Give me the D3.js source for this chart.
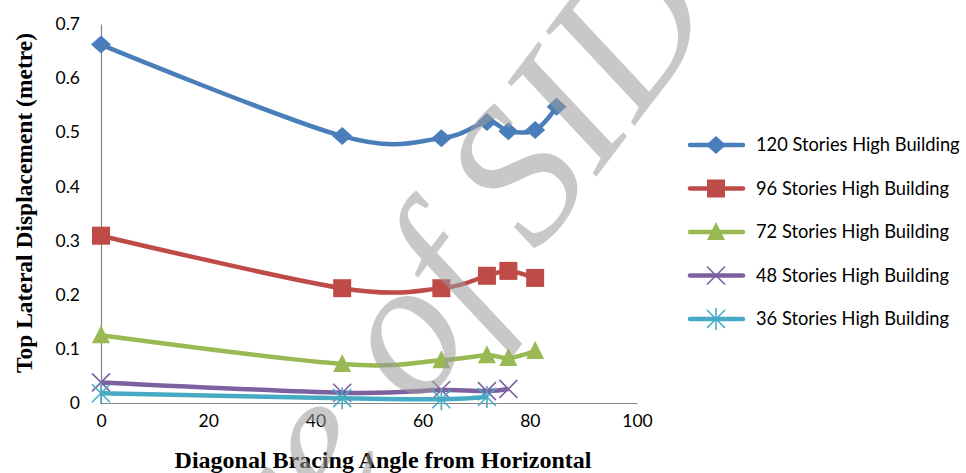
<!DOCTYPE html>
<html>
<head>
<meta charset="utf-8">
<script src="https://cdnjs.cloudflare.com/ajax/libs/d3/7.8.5/d3.min.js"></script>
<style>
  body { margin: 0; background: #fff; }
  svg { display: block; }
</style>
</head>
<body>
<svg id="chart" width="966" height="473"></svg>
<script>
// bracing angle (deg) and top displacement (m) for every building
const angles120 = [0, 45, 63.5, 72, 76, 81, 85];
const disp120 = [0.662, 0.493, 0.489, 0.519, 0.502, 0.504, 0.547];
const angles96 = [0, 45, 63.5, 72, 76, 81];
const disp96 = [0.309, 0.212, 0.212, 0.235, 0.244, 0.231];
const angles72 = [0, 45, 63.5, 72, 76, 81];
const disp72 = [0.125, 0.072, 0.079, 0.088, 0.083, 0.096];
const angles48 = [0, 45, 63.5, 72, 76];
const disp48 = [0.038, 0.019, 0.024, 0.022, 0.026];
const angles36 = [0, 45, 63.5, 72];
const disp36 = [0.018, 0.009, 0.007, 0.011];

const seriesNames = ["120 Stories High Building", "96 Stories High Building", "72 Stories High Building",
    "48 Stories High Building", "36 Stories High Building"];
const seriesColors = ["#4a7ebb", "#be4b48", "#98b954", "#7d60a0", "#46aac5"];
const seriesMarkers = ["diamond", "square", "triangle", "x", "star"];

const xTicks = [0, 20, 40, 60, 80, 100];
const yTicks = [0, 0.1, 0.2, 0.3, 0.4, 0.5, 0.6, 0.7];

const allAngles = [angles120, angles96, angles72, angles48, angles36];
const allDisp = [disp120, disp96, disp72, disp48, disp36];

const svg = d3.select("#chart");

const x = d3.scaleLinear().domain([0, 100]).range([101, 637]);
const y = d3.scaleLinear().domain([0, 0.7]).range([403, 24]);

//坐标轴
const tickFont = "Lato, 'Open Sans', sans-serif";
const serifFont = "'Liberation Serif', 'Times New Roman', serif";

const yAxis = svg.append("g")
    .attr("transform", `translate(${x(0)},0)`)
    .call(d3.axisLeft(y).tickValues(yTicks).tickSize(0).tickPadding(21)
        .tickFormat(d => d === 0 ? "0" : d3.format(".1f")(d)));

const xAxis = svg.append("g")
    .attr("transform", `translate(0,${y(0)})`)
    .call(d3.axisBottom(x).tickValues(xTicks).tickSize(0).tickPadding(12));

[xAxis, yAxis].forEach(function (a) {
    a.select(".domain").attr("stroke", "#868686").attr("stroke-width", 1.2);
    a.selectAll("text")
        .attr("font-family", tickFont)
        .attr("font-size", 17.5)
        .attr("fill", "#000");
});

//标题
svg.append("text")
    .text("Top Lateral Displacement (metre)")
    .attr("transform", "translate(32,203) rotate(-90)")
    .attr("text-anchor", "middle")
    .attr("font-family", serifFont)
    .attr("font-weight", "bold")
    .attr("font-size", 23.5);

svg.append("text")
    .text("Diagonal Bracing Angle from Horizontal")
    .attr("x", 383)
    .attr("y", 468)
    .attr("text-anchor", "middle")
    .attr("font-family", serifFont)
    .attr("font-weight", "bold")
    .attr("font-size", 24);

//标记符号
function drawMarker(g, type, color) {
    if (type === "diamond") {
        g.append("path").attr("d", "M0,-9L10,0L0,9L-10,0Z").attr("fill", color);
    } else if (type === "square") {
        g.append("rect").attr("x", -9).attr("y", -9).attr("width", 18).attr("height", 18).attr("fill", color);
    } else if (type === "triangle") {
        g.append("path").attr("d", "M0,-10L9,8L-9,8Z").attr("fill", color);
    } else if (type === "x") {
        g.append("path").attr("d", "M-9,-9L9,9M-9,9L9,-9")
            .attr("stroke", color).attr("stroke-width", 1.6).attr("fill", "none");
    } else {
        g.append("path").attr("d", "M-9,-9L9,9M-9,9L9,-9M0,-11L0,11")
            .attr("stroke", color).attr("stroke-width", 1.6).attr("fill", "none");
    }
}

const line = d3.line()
    .x(d => x(d[0]))
    .y(d => y(d[1]))
    .curve(d3.curveCardinal.tension(0));

const plot = svg.append("g").attr("class", "plot");

seriesNames.forEach(function (name, i) {
    const pts = allAngles[i].map((a, j) => [a, allDisp[i][j]]);
    const g = plot.append("g").attr("class", "series");
    g.append("path")
        .datum(pts)
        .attr("d", line)
        .attr("fill", "none")
        .attr("stroke", seriesColors[i])
        .attr("stroke-width", 4.5)
        .attr("stroke-linejoin", "round");
    g.selectAll("g.mk")
        .data(pts)
        .join("g")
        .attr("class", "mk")
        .attr("transform", d => `translate(${x(d[0])},${y(d[1])})`)
        .each(function () {
            drawMarker(d3.select(this), seriesMarkers[i], seriesColors[i]);
        });
});

//图例
const legend = svg.append("g").attr("class", "legend");
seriesNames.forEach(function (name, i) {
    const row = legend.append("g").attr("transform", `translate(0,${145 + i * 43.5})`);
    row.append("line")
        .attr("x1", 690).attr("x2", 743)
        .attr("stroke", seriesColors[i])
        .attr("stroke-width", 4.5)
        .attr("stroke-linecap", "round");
    drawMarker(row.append("g").attr("transform", "translate(716,0)"), seriesMarkers[i], seriesColors[i]);
    row.append("text")
        .text(name)
        .attr("x", 756)
        .attr("y", 0)
        .attr("dy", "0.35em")
        .attr("font-family", tickFont)
        .attr("font-size", 18.3)
        .attr("fill", "#000");
});

//水印
const wm = svg.append("g")
    .attr("transform", "translate(538,254) rotate(-53)")
    .attr("font-family", serifFont)
    .attr("font-style", "italic")
    .attr("font-size", 195)
    .attr("fill", "#9a9a9a")
    .attr("fill-opacity", 0.55);

wm.append("text")
    .text("Archive of")
    .attr("x", -45)
    .attr("text-anchor", "end");

wm.append("text")
    .text("SID")
    .attr("x", 0)
    .attr("text-anchor", "start");
</script>
</body>
</html>
